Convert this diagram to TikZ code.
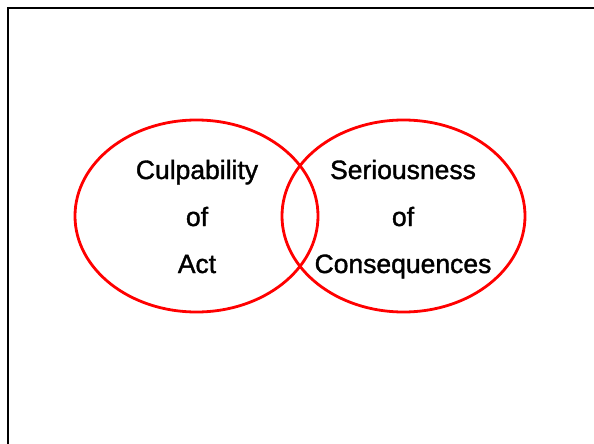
\documentclass[tikz,border=0pt]{standalone}
\usepackage{fontspec}
\setmainfont{Liberation Sans}
\newfontfamily\setfont[FakeBold=1.4]{Liberation Sans}
\tikzset{
	setline/.style={draw=red,line width=2.8pt},
	setlabel/.style={anchor=base,inner sep=0pt,font=\setfont\fontsize{26.5}{30}\selectfont}
}
\begin{document}
\begin{tikzpicture}[x=1pt,y=-1pt]
		\useasboundingbox (0,0) rectangle (594,444);
		% frame
		\draw[line width=2.4pt] (8,444) -- (8,8) -- (594,8);
		% left set
		\draw[setline] (196.5,216) ellipse (121.5 and 96);
		\node[setlabel] (culp) at (197,179) {Culpability};
		\node[setlabel] (culpof) at (197,226) {of};
		\node[setlabel] (act) at (197,273) {Act};
		% right set
		\draw[setline] (403.5,216) ellipse (121.5 and 96);
		\node[setlabel] (seri) at (403,179) {Seriousness};
		\node[setlabel] (seriof) at (403,226) {of};
		\node[setlabel] (cons) at (403,273) {Consequences};
	\end{tikzpicture}
\end{document}
